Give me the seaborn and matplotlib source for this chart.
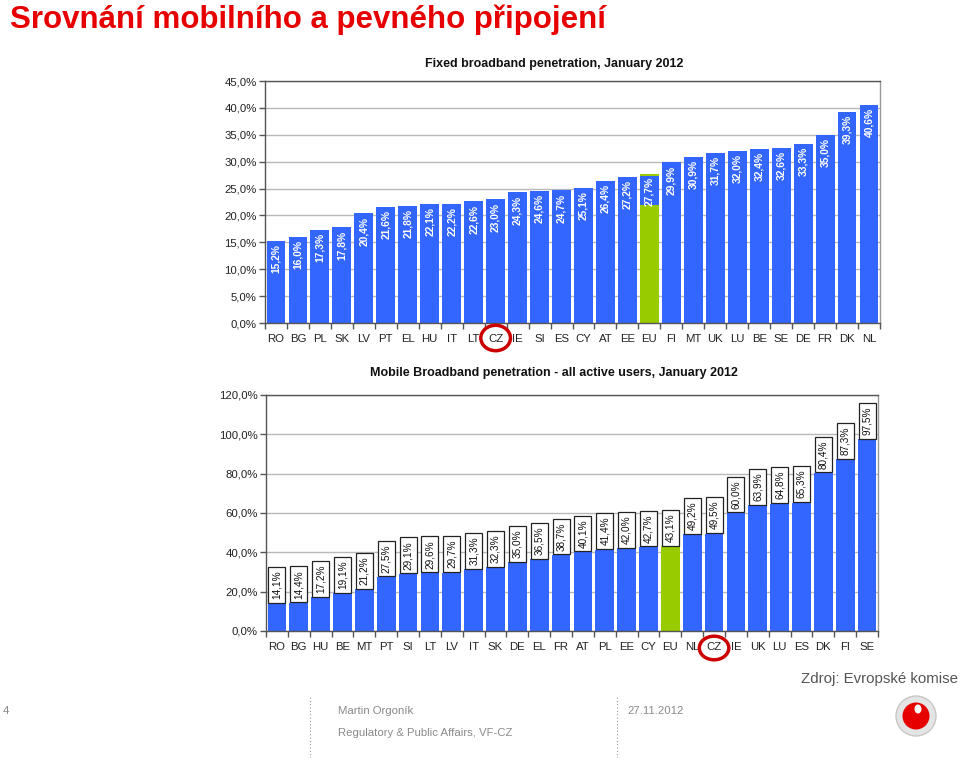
import matplotlib
matplotlib.use("Agg")
import matplotlib.pyplot as plt
import matplotlib.transforms as mtransforms
from matplotlib.patches import Ellipse
from matplotlib.ticker import FixedLocator, MultipleLocator, FuncFormatter
import seaborn as sns
import pandas as pd

# ---------------- data ----------------
fixed_countries = ["RO", "BG", "PL", "SK", "LV", "PT", "EL", "HU", "IT", "LT", "CZ", "IE", "SI", "ES",
                   "CY", "AT", "EE", "EU", "FI", "MT", "UK", "LU", "BE", "SE", "DE", "FR", "DK", "NL"]
fixed_values = [15.2, 16.0, 17.3, 17.8, 20.4, 21.6, 21.8, 22.1, 22.2, 22.6, 23.0, 24.3, 24.6, 24.7,
                25.1, 26.4, 27.2, 27.7, 29.9, 30.9, 31.7, 32.0, 32.4, 32.6, 33.3, 35.0, 39.3, 40.6]
fixed_eu_blue_from = 21.9   # blue overlay on the EU bar in the original
fixed_eu_blue_to = 27.4

mobile_countries = ["RO", "BG", "HU", "BE", "MT", "PT", "SI", "LT", "LV", "IT", "SK", "DE", "EL", "FR",
                    "AT", "PL", "EE", "CY", "EU", "NL", "CZ", "IE", "UK", "LU", "ES", "DK", "FI", "SE"]
mobile_values = [14.1, 14.4, 17.2, 19.1, 21.2, 27.5, 29.1, 29.6, 29.7, 31.3, 32.3, 35.0, 36.5, 38.7,
                 40.1, 41.4, 42.0, 42.7, 43.1, 49.2, 49.5, 60.0, 63.9, 64.8, 65.3, 80.4, 87.3, 97.5]

fixed_title = "Fixed broadband penetration, January 2012"
mobile_title = "Mobile Broadband penetration - all active users, January 2012"
page_title = "Srovnání mobilního a pevného připojení"
highlight = "CZ"
eu_label = "EU"

BLUE = "#3366ff"
GREEN = "#99cc00"
RED = "#e60000"

sns.set_theme(style="white")
plt.rcParams["font.family"] = ["Liberation Sans", "DejaVu Sans"]

fig = plt.figure(figsize=(9.6, 7.58), dpi=100)
fig.patch.set_facecolor("white")


def pct(v, pos=None):
    return f"{v:.1f}%".replace(".", ",")


def style_axes(ax, n, ymax, ystep):
    ax.set_xlim(-0.5, n - 0.5)
    ax.set_ylim(0, ymax)
    ax.yaxis.set_major_locator(MultipleLocator(ystep))
    ax.yaxis.set_major_formatter(FuncFormatter(pct))
    ax.grid(axis="y", color="#b8b8b8", linewidth=1.0)
    ax.set_axisbelow(True)
    for s in ax.spines.values():
        s.set_visible(True)
        s.set_color("#555555")
        s.set_linewidth(1.0)
    ax.spines["right"].set_color("#999999")
    ax.xaxis.set_minor_locator(FixedLocator([i + 0.5 for i in range(-1, n)]))
    ax.tick_params(axis="x", which="major", length=0, labelsize=8.2, pad=8, labelcolor="#222222")
    ax.tick_params(axis="x", which="minor", length=4, width=1, color="#555555", direction="out", bottom=True)
    ax.tick_params(axis="y", which="major", length=4, width=1, color="#555555", direction="out",
                   left=True, labelsize=8.2, labelcolor="#222222", pad=2)
    ax.set_xlabel("")
    ax.set_ylabel("")


# ---------------- fixed broadband ----------------
ax1 = fig.add_axes([265 / 960, 1 - 323 / 758, 615 / 960, 242 / 758])
df_f = pd.DataFrame({"country": fixed_countries, "value": fixed_values})
pal_f = {c: (GREEN if c == eu_label else BLUE) for c in fixed_countries}
sns.barplot(data=df_f, x="country", y="value", hue="country", palette=pal_f, legend=False,
            width=0.86, saturation=1, ax=ax1, edgecolor="none")
ieu = fixed_countries.index(eu_label)
ax1.bar(ieu, fixed_eu_blue_to - fixed_eu_blue_from, bottom=fixed_eu_blue_from, width=0.86,
        color=BLUE, linewidth=0, zorder=3)
style_axes(ax1, len(fixed_countries), 45, 5)
for i, v in enumerate(fixed_values):
    ax1.text(i, v - 0.6, pct(v), rotation=90, ha="center", va="top", color="white",
             fontsize=7.4, fontweight="bold", zorder=5)
ax1.set_title(fixed_title, fontsize=9, fontweight="bold", color="#111111", pad=10, x=0.47)

# ---------------- mobile broadband ----------------
ax2 = fig.add_axes([266 / 960, 1 - 631 / 758, 612 / 960, 236 / 758])
df_m = pd.DataFrame({"country": mobile_countries, "value": mobile_values})
pal_m = {c: (GREEN if c == eu_label else BLUE) for c in mobile_countries}
sns.barplot(data=df_m, x="country", y="value", hue="country", palette=pal_m, legend=False,
            width=0.86, saturation=1, ax=ax2, edgecolor="none")
style_axes(ax2, len(mobile_countries), 120, 20)
for i, v in enumerate(mobile_values):
    ax2.annotate(pct(v), xy=(i, v), xytext=(0, 3.0), textcoords="offset points",
                 rotation=90, ha="center", va="bottom", color="#111111", fontsize=7.2,
                 bbox=dict(boxstyle="square,pad=0.35", fc="white", ec="#222222", lw=0.9), zorder=5)
ax2.set_title(mobile_title, fontsize=9, fontweight="bold", color="#111111", pad=14, x=0.47)

# ---------------- CZ highlight circles ----------------
for ax, countries, h, cy in ((ax1, fixed_countries, 0.105, -0.062), (ax2, mobile_countries, 0.10, -0.072)):
    tr = mtransforms.blended_transform_factory(ax.transData, ax.transAxes)
    ax.add_patch(Ellipse((countries.index(highlight), cy), 1.35, h, transform=tr, fill=False,
                         ec="#cc0000", lw=2.5, clip_on=False, zorder=10))

# ---------------- page decoration ----------------
fig.text(10 / 960, 1 - 20 / 758, page_title, color=RED, fontsize=22.5, fontweight="bold",
         va="center", ha="left")
fig.text(958 / 960, 1 - 679 / 758, "Zdroj: Evropské komise", color="#555555", fontsize=10.8,
         ha="right", va="center")
foot = dict(color="#8a8a8a", fontsize=8.2, va="center", ha="left")
fig.text(3 / 960, 1 - 711 / 758, "4", **foot)
fig.text(338 / 960, 1 - 711 / 758, "Martin Orgoník", **foot)
fig.text(338 / 960, 1 - 733 / 758, "Regulatory & Public Affairs, VF-CZ", **foot)
fig.text(627 / 960, 1 - 711 / 758, "27.11.2012", **foot)
for xpx in (310, 617):
    fig.add_artist(plt.Line2D([xpx / 960, xpx / 960], [1 - 697 / 758, 0], color="#999999",
                              lw=0.8, ls=(0, (1, 2)), transform=fig.transFigure))

# Vodafone-like logo
lx, ly = 916 / 960, 1 - 716 / 758
fig.add_artist(Ellipse((lx, ly), 40 / 960, 40 / 758, transform=fig.transFigure, fc="#e4e4e4", ec="#c8c8c8", lw=1))
fig.add_artist(Ellipse((lx, ly), 27 / 960, 27 / 758, transform=fig.transFigure, fc="#e60000", ec="none"))
fig.add_artist(Ellipse((lx + 2 / 960, ly + 7 / 758), 7 / 960, 9 / 758, transform=fig.transFigure, fc="white", ec="none"))

fig.savefig("out.png", dpi=100, facecolor="white")
